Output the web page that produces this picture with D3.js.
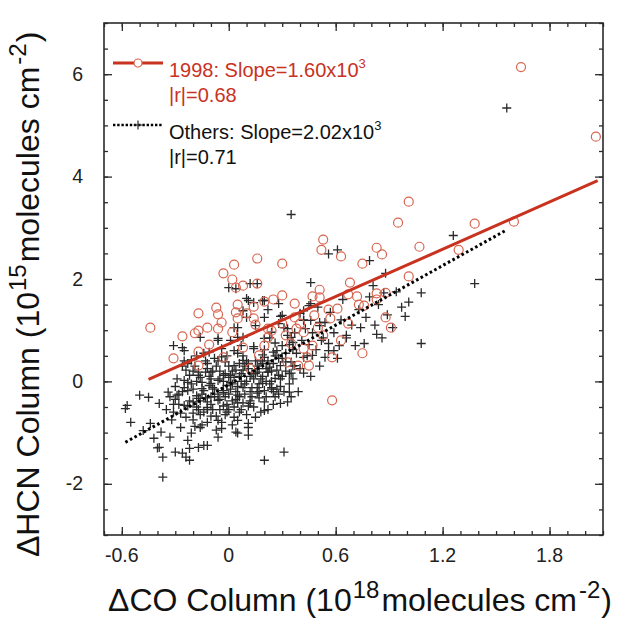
<!DOCTYPE html>
<html>
<head>
<meta charset="utf-8">
<script src="https://cdn.jsdelivr.net/npm/d3@7"></script>
<style>
  body { margin: 0; background: #fff; }
  text { font-family: "Liberation Sans", Arial, sans-serif; }
</style>
</head>
<body>
<script>
// HCN vs CO column anomalies, 1998 vs other years

var pts1998 = [
  [1.64,6.14],[2.06,4.78],[1.01,3.51],[0.95,3.10],[1.38,3.08],[1.60,3.12],[1.29,2.57],[1.07,2.63],
  [0.16,2.40],[0.30,2.30],[0.53,2.77],[0.52,2.57],[0.63,2.44],[0.83,2.61],[0.86,2.48],[0.75,2.30],
  [1.01,2.05],[0.68,1.93],[0.51,1.79],[0.67,1.70],[0.72,1.66],[0.73,1.50],[0.83,1.72],[0.88,1.73],
  [0.83,1.60],[0.47,1.66],[0.51,1.64],[0.30,1.68],[0.37,1.52],[0.25,1.60],[0.56,1.40],[0.61,1.42],
  [0.57,1.23],[0.67,1.13],[0.91,1.05],[0.40,1.13],[0.42,0.96],[0.48,1.29],[0.63,0.80],[0.47,0.70],
  [0.03,2.28],[-0.03,2.11],[0.02,1.99],[0.04,1.83],[0.08,1.87],[0.16,1.91],[-0.07,1.44],[0.05,1.50],
  [0.04,1.35],[0.14,1.46],[0.20,1.56],[0.10,1.33],[-0.06,1.31],[-0.04,1.15],[-0.17,1.33],[-0.12,1.05],
  [-0.17,0.99],[-0.44,1.05],[-0.26,0.88],[0.05,1.23],[0.15,1.11],[0.24,0.99],[0.30,1.13],[0.37,1.25],
  [0.50,1.05],[0.76,1.48],[0.88,1.25],[0.35,0.74],[0.53,0.90],[-0.31,0.45],[-0.06,1.03],[0.22,1.03],
  [0.22,0.86],[-0.11,0.72],[-0.17,0.58],[-0.03,0.47],[-0.17,0.31],[0.17,0.51],[0.20,0.70],[0.08,0.66],
  [0.02,0.96],[0.33,0.37],[0.39,0.31],[0.45,0.31],[0.44,0.47],[0.58,0.47],[0.75,0.55],[0.58,-0.37],
  [0.38,1.03],[0.32,0.90],[0.42,0.64],[-0.19,0.94],[0.12,0.25],[0.14,1.23]
];

var ptsOthers = [
  [1.56,5.34],[0.35,3.26],[1.26,2.85],[0.56,2.49],[0.61,2.57],[0.79,2.36],[0.88,2.11],[0.46,1.93],
  [0.16,1.91],[0.81,1.87],[0.87,1.73],[1.08,1.73],[1.38,1.91],[0.99,1.27],[0.83,0.92],[0.76,0.74],
  [1.08,0.74],[0.46,1.52],[0.51,1.15],[0.28,1.52],[0.20,1.58],[0.22,1.40],[0.56,0.74],[0.66,0.90],
  [0.62,0.70],[0.00,1.83],[0.12,1.91],[0.03,1.05],[0.10,1.62],[0.14,1.54],[0.20,1.25],[0.30,1.29],
  [0.40,1.33],[0.45,1.48],[0.42,1.19],[0.24,0.96],[0.35,0.86],[0.05,0.86],[-0.31,0.70],[-0.26,0.66],
  [-0.06,0.80],[-0.16,0.86],[0.29,1.27],[0.42,1.38],[0.46,1.19],[0.51,1.09],[0.43,1.03],[0.33,1.03],
  [0.28,1.13],[0.36,0.76],[0.45,0.72],[0.52,0.80],[0.59,0.60],[0.54,0.47],[0.47,0.51],[0.42,0.47],
  [0.37,0.31],[0.42,0.16],[0.35,0.16],[0.29,0.31],[0.25,0.57],[0.20,0.47],[0.22,0.18],[0.26,0.06],
  [0.34,-0.21],[0.29,-0.43],[0.20,-0.57],[0.31,-1.38],[0.20,-1.54],[0.24,-0.12],
  [-0.57,-0.47],[-0.58,-0.53],[-0.50,-0.27],[-0.45,-0.31],[-0.55,-0.80],[-0.39,-0.43],[-0.34,-0.21],
  [-0.37,-1.87],[-0.29,-0.27],[-0.31,-0.60],[-0.25,-0.47],[-0.23,-0.18],[-0.20,-0.62],[-0.17,-0.33],
  [-0.15,-0.14],[-0.10,-0.04],[-0.12,-0.51],[-0.06,-0.37],[-0.03,-0.18],[0.01,-0.02],[0.05,-0.27],
  [0.08,-0.12],[0.12,-0.43],[0.16,-0.23],[0.19,-0.04],[-0.01,-0.60],[0.05,-0.76],[0.11,-0.82],
  [0.04,-0.99],[-0.06,-0.76],[-0.16,-0.90],[-0.21,-1.01],[-0.23,-1.15],[-0.33,-1.09],[-0.38,-0.99],
  [-0.42,-1.11],[-0.39,-1.29],[-0.37,-1.48],[-0.30,-1.38],[-0.26,-1.40],[-0.22,-1.54],[-0.17,-1.29],
  [-0.12,-1.25],[-0.06,-1.09],[0.05,-1.01],[0.11,-1.05],[-0.04,-0.92],[-0.48,-0.96],[-0.44,-0.82],
  [-0.40,-1.30],[-0.24,-1.48],[-0.22,-1.31],[-0.14,-1.25],[0.11,-0.90],
  [-0.25,0.60],[-0.23,0.35],[-0.12,0.35],[-0.06,0.84],[0.04,1.81],[0.11,1.58],[0.19,1.58],[0.08,1.38],
  [0.10,1.25],[0.15,1.09],[0.05,1.05],[0.08,0.86],[0.01,0.80],[-0.04,0.64],[-0.11,0.57],[-0.17,0.12],
  [-0.10,0.18],[-0.03,0.12],[0.03,0.31],[0.08,0.41],[0.14,0.64],[0.20,0.84],[0.16,0.18],[-0.25,0.02],
  [-0.30,-0.35],[-0.29,0.05],[-0.27,-0.62],[-0.26,-0.20],[-0.24,0.22],[-0.23,-0.48],[-0.21,-0.05],
  [-0.20,-0.75],[-0.19,0.30],[-0.18,-0.28],[-0.17,-0.55],[-0.16,0.08],[-0.15,-0.85],[-0.14,-0.18],
  [-0.13,0.40],[-0.12,-0.40],[-0.11,-0.08],[-0.10,-0.68],[-0.09,0.20],[-0.08,-0.30],[-0.07,-0.95],
  [-0.06,0.02],[-0.05,-0.55],[-0.04,0.48],[-0.03,-0.22],[-0.02,0.15],[-0.01,-0.45],[0.00,0.30],
  [0.01,-0.15],[0.02,-0.85],[0.03,0.08],[0.04,-0.35],[0.05,0.55],[0.06,-0.60],[0.07,0.00],[0.08,0.22],
  [0.09,-0.25],[0.10,0.40],[0.11,-0.48],[0.12,0.10],[0.13,-0.12],[0.14,0.68],[0.15,-0.70],[0.16,0.30],
  [0.17,-0.32],[0.18,0.05],[0.19,0.52],[0.20,-0.18],[0.21,0.25],[0.22,-0.55],[0.23,0.85],[0.24,0.00],
  [0.25,0.35],[0.26,-0.30],[0.27,0.60],[0.28,0.12],[0.29,-0.10],[0.30,0.45],[0.31,1.05],[0.32,0.20],
  [0.33,-0.40],[0.34,0.72],[0.35,0.38],[0.36,0.05],[0.37,0.95],[0.38,0.55],[0.39,-0.20],[0.40,0.25],
  [0.41,0.80],[0.42,1.20],[0.44,0.50],[0.46,0.10],[0.47,0.95],[0.49,0.62],[0.50,1.45],[0.51,0.30],
  [0.53,0.85],[0.54,1.15],[0.56,0.60],[0.57,1.35],[0.59,0.95],[0.61,0.45],[0.63,1.20],[0.64,1.60],
  [0.66,0.85],[0.69,1.10],[0.71,0.70],[0.73,1.40],[0.74,1.05],[0.77,1.25],[0.79,1.65],[0.82,1.10],
  [0.84,1.50],[0.86,0.85],[0.89,1.30],[0.92,1.05],[0.94,1.75],[0.97,1.45],[1.01,1.55],
  [-0.25,-0.12],[-0.22,0.12],[-0.20,-0.40],[-0.18,0.00],[-0.15,-0.25],[-0.13,0.18],[-0.12,-0.55],
  [-0.10,0.05],[-0.08,-0.15],[-0.07,0.30],[-0.05,-0.35],[-0.03,0.00],[-0.02,-0.65],[0.00,-0.25],
  [0.02,0.20],[0.03,-0.50],[0.05,-0.10],[0.06,0.35],[0.08,-0.42],[0.10,0.00],[0.11,0.25],[0.13,-0.30],
  [0.15,0.15],[0.17,-0.05],[0.18,0.40],[0.20,-0.40],[0.22,0.18],[0.24,-0.15],[0.26,0.50],[0.28,-0.25],
  [0.30,0.10],[0.32,0.55],[0.34,-0.05],[0.36,0.30],
  [-0.35,-0.55],[-0.33,-0.30],[-0.32,-0.75],[-0.30,-0.10],[-0.28,-0.45],[-0.27,-0.90],[-0.26,0.30],
  [-0.24,-0.70],[-0.23,-0.02],[-0.22,-0.38],[-0.21,0.42],[-0.20,-0.15],[-0.19,-0.88],[-0.18,-0.50],
  [-0.17,0.18],[-0.16,-0.65],[-0.15,-0.02],[-0.14,0.55],[-0.13,-0.32],[-0.12,-0.80],[-0.11,0.10],
  [-0.10,-0.45],[-0.09,-0.12],[-0.08,0.45],[-0.07,-0.68],[-0.06,-0.25],[-0.05,0.20],[-0.04,-0.80],
  [-0.03,-0.48],[-0.02,0.38],[-0.01,-0.08],[0.00,-0.55],[0.01,0.12],[0.02,-0.38],[0.03,-0.70],
  [0.04,0.22],[0.05,-0.42],[0.06,0.10],[0.07,-0.55],[0.08,0.50],[0.09,-0.05],[0.10,-0.65],[0.11,0.35],
  [0.12,-0.20],[0.13,0.15],[0.14,-0.50],[0.15,0.40],[0.16,-0.12],[0.17,0.25],[0.18,-0.60],[0.19,0.10],
  [0.20,0.62],[0.21,-0.30],[0.22,0.40],[0.23,-0.05],[0.24,0.20],[0.25,-0.45],[0.26,0.75],[0.27,-0.15],
  [0.28,0.45],[0.29,0.05],[0.30,0.70],[0.31,-0.20],[0.32,0.38],[0.33,0.90],[0.34,0.15],[0.35,-0.30],
  [0.36,0.62],
  [-0.20,0.20],[-0.16,-0.38],[-0.12,0.25],[-0.09,-0.55],[-0.05,0.05],[-0.02,-0.30],[0.00,0.08],
  [0.02,-0.05],[0.04,-0.20],[0.06,-0.30],[0.07,0.15],[0.09,0.30],[0.12,-0.38],[0.14,0.05],[0.17,-0.20],
  [0.19,0.35],[0.21,0.00],[0.23,0.28],[0.25,-0.20],[0.27,0.22],[-0.14,-0.60],[-0.10,-0.30],[-0.06,0.40],
  [-0.01,0.50],[0.03,0.60],[0.07,0.70],[-0.18,0.50],[-0.25,0.40],[-0.28,-0.25],[-0.31,-0.45]
];

// regression lines (end points)
var fit1998 = [[-0.45,0.04],[2.07,3.92]];
var fitOthers = [[-0.58,-1.19],[1.56,2.96]];

var xTicks = [-0.6, 0, 0.6, 1.2, 1.8];
var xTickLabels = ["-0.6", "0", "0.6", "1.2", "1.8"];
var yTicks = [-2, 0, 2, 4, 6];
var yTickLabels = ["-2", "0", "2", "4", "6"];

var red = "#c8321f", redPt = "#d8644f", ink = "#2a2a2a";

var svg = d3.select("body").append("svg").attr("width", 640).attr("height", 624);

var x = d3.scaleLinear().domain([-0.7, 2.1]).range([104, 603]);
var y = d3.scaleLinear().domain([-3, 7]).range([535, 23]);

var xMinor = d3.range(-7, 22).map(function (d) { return d / 10; });
var yMinor = d3.range(-6, 15).map(function (d) { return d / 2; });

// ticks on all four sides, pointing inward
function ticks(axis, tx, ty, vals, len) {
  var g = svg.append("g").attr("transform", "translate(" + tx + "," + ty + ")")
    .call(axis.tickValues(vals).tickSize(-len).tickFormat(""));
  g.select(".domain").remove();
  g.selectAll("line").attr("stroke", ink).attr("stroke-width", 1.3);
}
ticks(d3.axisBottom(x), 0, 535, xMinor, 4);
ticks(d3.axisBottom(x), 0, 535, xTicks, 8);
ticks(d3.axisTop(x), 0, 23, xMinor, 4);
ticks(d3.axisTop(x), 0, 23, xTicks, 8);
ticks(d3.axisLeft(y), 104, 0, yMinor, 4);
ticks(d3.axisLeft(y), 104, 0, yTicks, 8);
ticks(d3.axisRight(y), 603, 0, yMinor, 4);
ticks(d3.axisRight(y), 603, 0, yTicks, 8);

svg.append("rect").attr("x", 104).attr("y", 23).attr("width", 499).attr("height", 512)
  .attr("fill", "none").attr("stroke", ink).attr("stroke-width", 1.6);

svg.selectAll("text.xt").data(xTicks).enter().append("text")
  .attr("x", function (d) { return x(d); }).attr("y", 562)
  .attr("text-anchor", "middle").attr("font-size", 19.5).attr("fill", "#222")
  .text(function (d, i) { return xTickLabels[i]; });

svg.selectAll("text.yt").data(yTicks).enter().append("text")
  .attr("x", 83).attr("y", function (d) { return y(d) + 6.5; })
  .attr("text-anchor", "end").attr("font-size", 19.5).attr("fill", "#222")
  .text(function (d, i) { return yTickLabels[i]; });

// scatter
var plus = "M-4.5,0H4.5M0,-4.5V4.5";
svg.append("g").selectAll("path").data(ptsOthers).enter().append("path")
  .attr("d", plus)
  .attr("transform", function (d) { return "translate(" + x(d[0]) + "," + y(d[1]) + ")"; })
  .attr("stroke", ink).attr("stroke-width", 1.3).attr("fill", "none");

svg.append("g").selectAll("circle").data(pts1998).enter().append("circle")
  .attr("cx", function (d) { return x(d[0]); })
  .attr("cy", function (d) { return y(d[1]); })
  .attr("r", 4.5)
  .attr("fill", "none").attr("stroke", redPt).attr("stroke-width", 1.2);

var line = d3.line().x(function (d) { return x(d[0]); }).y(function (d) { return y(d[1]); });

svg.append("path").attr("d", line(fitOthers))
  .attr("fill", "none").attr("stroke", "#000").attr("stroke-width", 3)
  .attr("stroke-dasharray", "2.6,2.6");
svg.append("path").attr("d", line(fit1998))
  .attr("fill", "none").attr("stroke", red).attr("stroke-width", 3);

// legend
var leg = svg.append("g");
leg.append("line").attr("x1", 113).attr("x2", 163).attr("y1", 63).attr("y2", 63)
  .attr("stroke", red).attr("stroke-width", 3);
leg.append("circle").attr("cx", 138).attr("cy", 63).attr("r", 4)
  .attr("fill", "#fff").attr("stroke", redPt).attr("stroke-width", 1.2);
leg.append("line").attr("x1", 113).attr("x2", 163).attr("y1", 125).attr("y2", 125)
  .attr("stroke", "#000").attr("stroke-width", 2.5).attr("stroke-dasharray", "2.4,1.8");
leg.append("path").attr("d", plus).attr("transform", "translate(138,125)")
  .attr("stroke", ink).attr("stroke-width", 1.2);

function legText(tx, ty, main, sup, col) {
  var t = leg.append("text").attr("x", tx).attr("y", ty).attr("font-size", 20).attr("fill", col);
  t.append("tspan").text(main);
  if (sup) t.append("tspan").attr("dy", -9).attr("font-size", 13).text(sup);
}
legText(169, 77, "1998: Slope=1.60x10", "3", red);
legText(169, 102, "|r|=0.68", null, red);
legText(169, 139, "Others: Slope=2.02x10", "3", "#111");
legText(169, 164, "|r|=0.71", null, "#111");

// axis titles: main text 32px, superscripts 24px
function title(t, parts) {
  parts.forEach(function (p) {
    var s = t.append("tspan").text(p[0]);
    if (p[1]) s.attr("dy", p[1]);
    s.attr("font-size", p[2]);
    if (p[3]) s.attr("dx", p[3]);
  });
}
var xt = svg.append("text").attr("x", 108).attr("y", 611).attr("fill", "#111");
title(xt, [["\u0394CO Column (10", 0, 32], ["18", -13, 24, 1], ["molecules cm", 13, 32, 2], ["-2", -13, 24, 2], [")", 13, 32, 1]]);

var yt = svg.append("text").attr("transform", "translate(39,557) rotate(-90)").attr("fill", "#111");
title(yt, [["\u0394HCN Column (10", 0, 32], ["15", -13, 24, 1], ["molecules cm", 13, 32, 2], ["-2", -13, 24, 2], [")", 13, 32, 1]]);
</script>
</body>
</html>
